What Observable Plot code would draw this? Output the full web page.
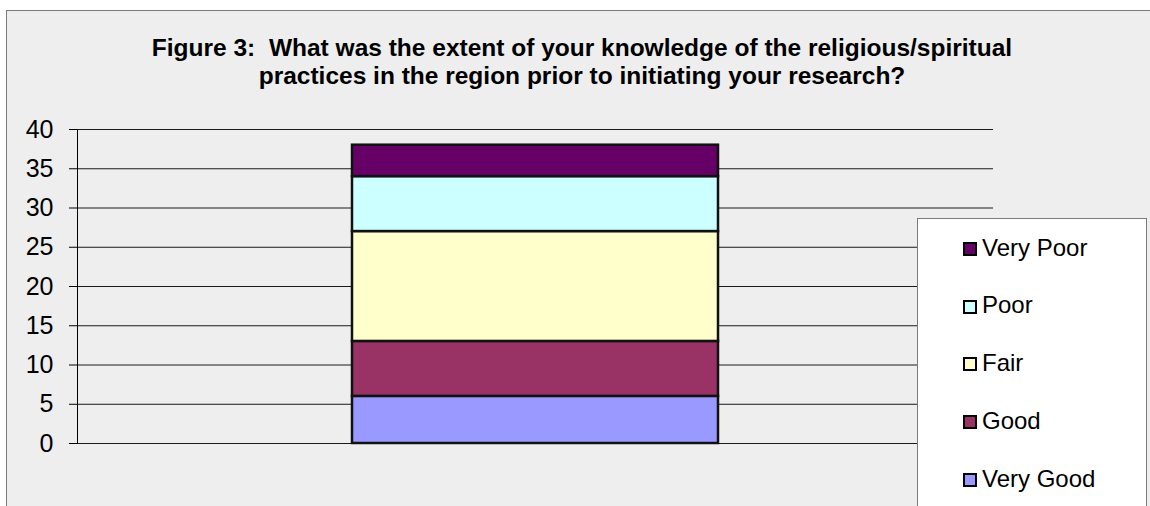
<!DOCTYPE html>
<html>
<head>
<meta charset="utf-8">
<script src="https://cdn.jsdelivr.net/npm/d3@7"></script>
<script src="https://cdn.jsdelivr.net/npm/@observablehq/plot@0.6"></script>
<style>
  html, body { margin: 0; padding: 0; background: #ffffff; overflow: hidden; }
  body { width: 1150px; height: 506px; position: relative; font-family: "Liberation Sans", Arial, sans-serif; color: #000; }
  #frame { position: absolute; left: 6px; top: 10px; width: 1200px; height: 600px; background: #eeeeee; border: 1px solid #7a7a7a; }
  #title { position: absolute; left: 0; top: 34px; width: 1164px; text-align: center; font-weight: bold; font-size: 24.5px; line-height: 28px; white-space: pre; }
  #chart { position: absolute; left: 0; top: 110px; }
  #legend { position: absolute; left: 917px; top: 218px; width: 228px; height: 400px; background: #ffffff; border: 1px solid #7a7a7a; }
  .sw { position: absolute; width: 10px; height: 10px; border: 2px solid #000; }
  .lt { position: absolute; font-size: 24px; line-height: 24px; white-space: nowrap; }
</style>
</head>
<body>
<div id="frame"></div>
<div id="title"></div>
<div id="chart"></div>
<div id="legend"></div>
<script>
const titleLines = [
  "Figure 3:  What was the extent of your knowledge of the religious/spiritual",
  "practices in the region prior to initiating your research?"
];
const categories = ["Very Good", "Good", "Fair", "Poor", "Very Poor"];
const values = [6, 7, 14, 7, 4];
const colors = ["#9999ff", "#993366", "#ffffcc", "#ccffff", "#660066"];
const yTicks = [0, 5, 10, 15, 20, 25, 30, 35, 40];
const group = [""];

document.getElementById("title").textContent = titleLines.join("\n");

const data = categories.map((c, i) => ({group: group[0], category: c, value: values[i]}));

const chart = Plot.plot({
  width: 1150,
  height: 396,
  marginTop: 19,
  marginBottom: 63,
  marginLeft: 77,
  marginRight: 157,
  style: {background: "transparent", fontFamily: "'Liberation Sans', Arial, sans-serif", fontSize: "25px", color: "#000", overflow: "visible"},
  x: {domain: group, axis: null, padding: 0.4286},
  y: {domain: [0, 40], label: null},
  color: {type: "ordinal", domain: categories, range: colors},
  marks: [
    Plot.ruleY(yTicks, {stroke: "#1a1a1a", strokeWidth: 1}),
    Plot.axisY({ticks: yTicks, tickSize: 8, tickPadding: 16, fontSize: 25, stroke: "#000", strokeOpacity: 1, tickFormat: d => String(d), label: null}),
    Plot.barY(data, {x: "group", y: "value", fill: "category", stroke: "#111", strokeWidth: 2.5}),
    Plot.frame({anchor: "left", stroke: "#000", strokeWidth: 1})
  ]
});
document.getElementById("chart").appendChild(chart);

// Legend (top entry is the last category)
const legend = document.getElementById("legend");
const legendOrder = categories.map((c, i) => i).reverse();
const firstBaseline = 254.8 - 218;  // relative to legend box top
const rowStep = 57.8;
legendOrder.forEach((idx, row) => {
  const baseline = firstBaseline + row * rowStep;
  const sw = document.createElement("div");
  sw.className = "sw";
  sw.style.left = (963 - 918) + "px";
  sw.style.top = (baseline - 14) + "px";
  sw.style.background = colors[idx];
  legend.appendChild(sw);
  const t = document.createElement("div");
  t.className = "lt";
  t.style.left = (982 - 918) + "px";
  t.style.top = (baseline - 20.3) + "px";
  t.textContent = categories[idx];
  legend.appendChild(t);
});
</script>
</body>
</html>
